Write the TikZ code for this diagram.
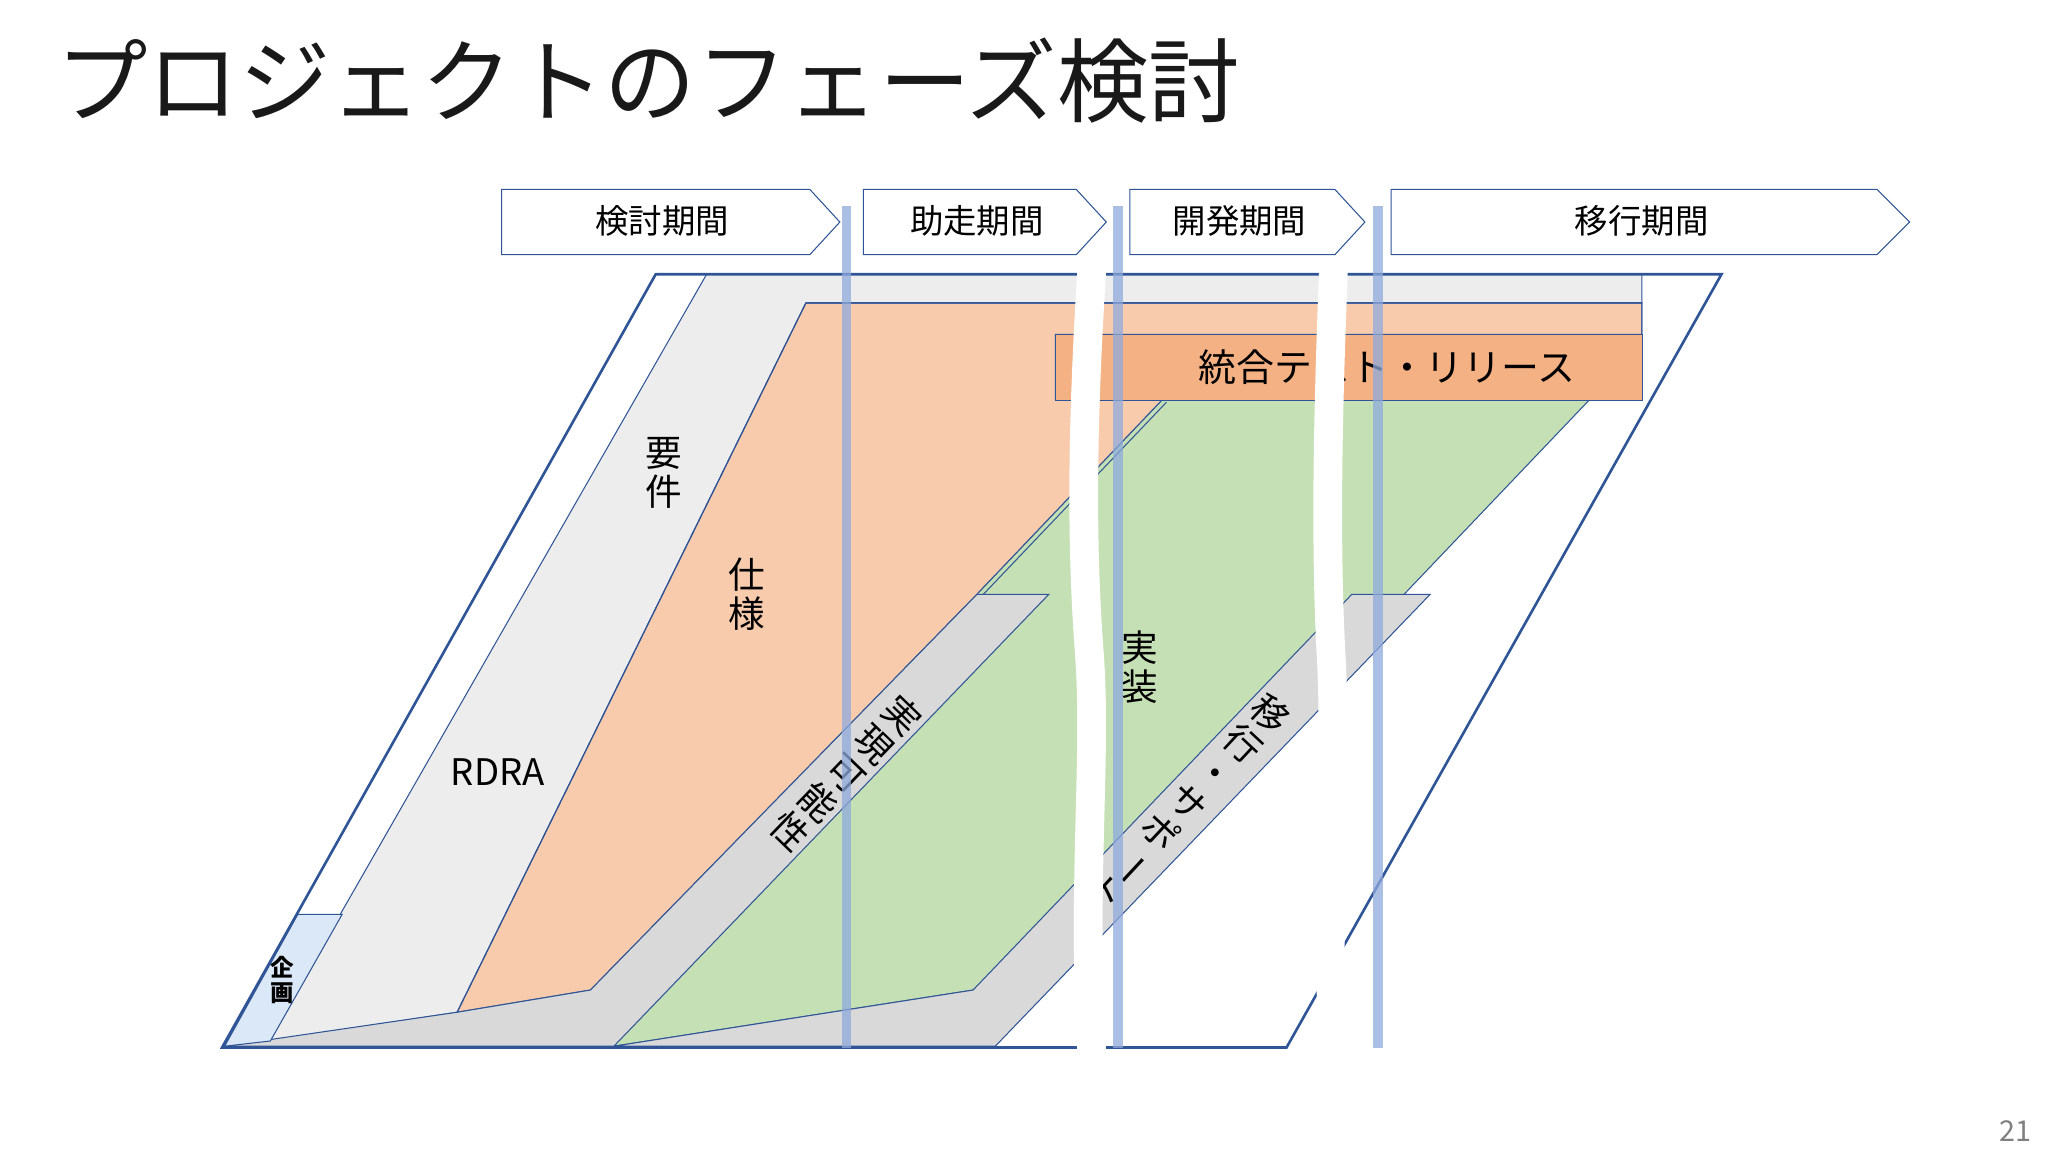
\documentclass[tikz,border=0pt]{standalone}
\usepackage{fontspec}
\setmainfont{Noto Sans CJK JP}
\definecolor{bl}{HTML}{2F5597}
\definecolor{vl}{HTML}{8FAADC}
\definecolor{reqc}{HTML}{EDEDED}
\definecolor{spc}{HTML}{F8CBAD}
\definecolor{grc}{HTML}{C5E0B4}
\definecolor{gyc}{HTML}{D9D9D9}
\definecolor{plc}{HTML}{DAE8F7}
\definecolor{itc}{HTML}{F4B183}
\tikzset{
 area/.style={draw=bl,line width=0.4pt},
 phase/.style={draw=bl,line width=0.4pt,fill=white},
 vline/.style={vl,line width=3.5pt,opacity=0.75},
 gap/.style={white,line width=11pt},
 lbl/.style={font=\fontsize{14}{15}\selectfont,inner sep=0pt,align=center},
}
\begin{document}
\begin{tikzpicture}[x=0.5pt,y=-0.5pt]
\useasboundingbox (0,0) rectangle (1568,882);
\node[anchor=west,font=\fontsize{35}{36}\selectfont,text=black!90] (title) at (36,62) {プロジェクトのフェーズ検討};
% phases
\draw[phase] (384,145) -- (620,145) -- (643,170) -- (620,195) -- (384,195) -- cycle;
\draw[phase] (661,145) -- (824,145) -- (847,170) -- (824,195) -- (661,195) -- cycle;
\draw[phase] (865,145) -- (1022,145) -- (1045,170) -- (1022,195) -- (865,195) -- cycle;
\draw[phase] (1065,145) -- (1437,145) -- (1462,170) -- (1437,195) -- (1065,195) -- cycle;
\node[font=\fontsize{12.8}{13}\selectfont] (p1) at (507,169) {検討期間};
\node[font=\fontsize{12.8}{13}\selectfont] (p2) at (748,169) {助走期間};
\node[font=\fontsize{12.8}{13}\selectfont] (p3) at (949,169) {開発期間};
\node[font=\fontsize{12.8}{13}\selectfont] (p4) at (1257,169) {移行期間};
% areas
\fill[area,fill=reqc] (205,797) -- (541,210) -- (1257,210) -- (1257,232) -- (617,232) -- (350,775) -- cycle;
\fill[area,fill=spc] (350,775) -- (617,232) -- (1257,232) -- (1257,256) -- (808,256) -- (808,306) -- (890,306) -- (748,455) -- (452,758) -- cycle;
\draw[area] (350,775) -- (617,232) -- (1257,232) -- (1257,256);
\fill[area,fill=grc] (470,801) -- (748,455) -- (890,306) -- (1217,306) -- (1075,455) -- (745,758) -- cycle;
\draw[draw=bl,line width=0.4pt] (893,308) -- (751,457);
\fill[area,fill=gyc] (172,801) -- (350,775) -- (452,758) -- (748,455) -- (803,455) -- (470,801) -- cycle;
\fill[area,fill=gyc] (470,801) -- (745,758) -- (1035,455) -- (1095,455) -- (762,801) -- cycle;
\fill[area,fill=plc] (172,801) -- (228,700) -- (262,700) -- (207,797) -- cycle;
\node[area,fill=itc,minimum width=449*0.5pt,minimum height=50*0.5pt,anchor=north west,inner sep=0pt] (it) at (808,256) {};
\node[lbl,font=\fontsize{14.5}{15}\selectfont] (itl) at (1062,281) {統合テスト・リリース};
% outer outline
\draw[bl,line width=1pt] (170,802) -- (502,210) -- (1318,210) -- (985,802) -- cycle;
% labels
\node[lbl] (req) at (508,362) {要\\件};
\node[lbl] (spec) at (572,455) {仕\\様};
\node[lbl] (rdra) at (381,591) {RDRA};
\node[lbl] (impl) at (873,511) {実\\装};
\node[lbl,font=\fontsize{9}{9.5}\selectfont\bfseries] (plan) at (216,750) {企\\画};
\node[lbl,rotate=-44,font=\fontsize{14}{15.5}\selectfont] (feas) at (648,592) {実\\現\\可\\能\\性};
\node[lbl,rotate=-43,font=\fontsize{14}{15.5}\selectfont] (mig) at (910,614) {移\\行\\・\\サ\\ポ\\\rotatebox[origin=c]{-90}{ー}\\ト};
% breaks
\draw[gap] (836,205) .. controls (828,330) and (828,420) .. (834,500) .. controls (840,580) and (828,680) .. (836,807);
\draw[gap] (1021,205) .. controls (1016,330) and (1015,420) .. (1019,500) .. controls (1024,580) and (1014,680) .. (1021,807);
% vertical lines
\draw[vline] (648,158) -- (648,802);
\draw[vline] (856,158) -- (856,802);
\draw[vline] (1055,158) -- (1055,802);
\node[text=gray,font=\fontsize{11}{11}\selectfont] (pg) at (1543,866) {21};
\end{tikzpicture}
\end{document}
